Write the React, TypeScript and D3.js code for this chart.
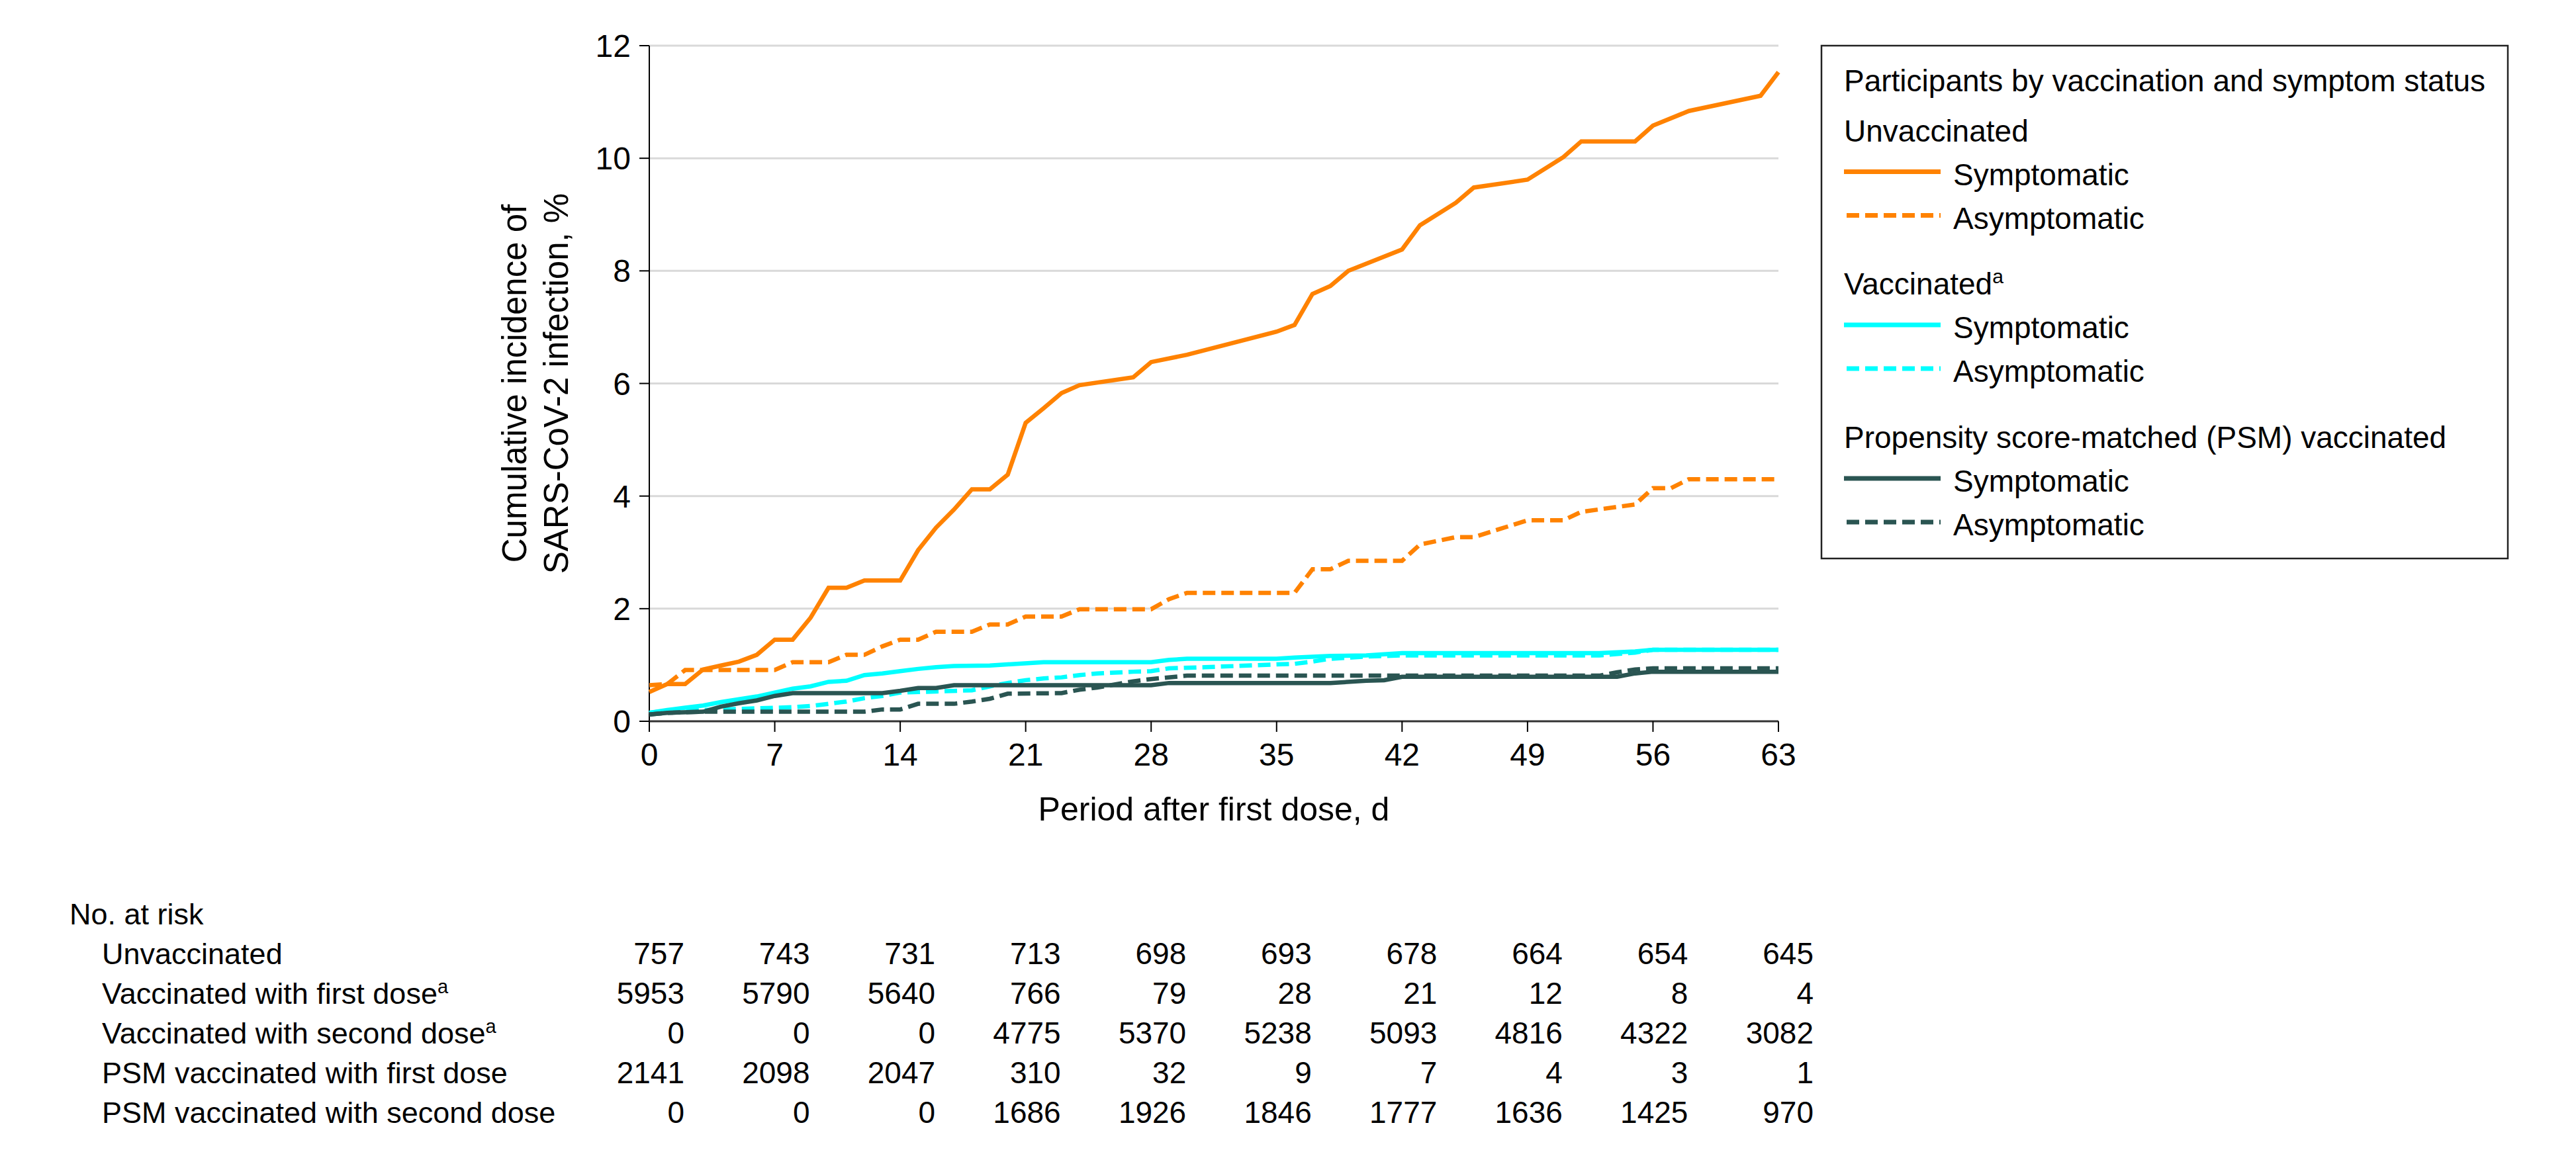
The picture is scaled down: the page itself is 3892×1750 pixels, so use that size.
import React from 'react';
import * as d3 from 'd3';

type P = [number, number];

const xTicks = [0, 7, 14, 21, 28, 35, 42, 49, 56, 63];
const yTicks = [0, 2, 4, 6, 8, 10, 12];

const unvaxSymptomatic: P[] = [
  [0, 0.52], [1, 0.66], [2, 0.66], [3, 0.92], [4, 0.99], [5, 1.06], [6, 1.18], [7, 1.45], [8, 1.45],
  [9, 1.84], [10, 2.37], [11, 2.37], [12, 2.5], [14, 2.5], [15, 3.04], [16, 3.44], [17, 3.76],
  [18, 4.12], [19, 4.12], [20, 4.38], [21, 5.3], [22, 5.56], [23, 5.83], [24, 5.97], [27, 6.11],
  [28, 6.38], [30, 6.51], [35, 6.92], [36, 7.04], [37, 7.59], [38, 7.73], [39, 8.0], [42, 8.38],
  [43, 8.81], [45, 9.21], [46, 9.48], [49, 9.62], [51, 10.02], [52, 10.3], [55, 10.3], [56, 10.58],
  [58, 10.84], [62, 11.11], [63, 11.53],
];
const unvaxAsymptomatic: P[] = [
  [0, 0.64], [1, 0.66], [2, 0.91], [7, 0.91], [8, 1.05], [10, 1.05], [11, 1.18], [12, 1.18],
  [13, 1.33], [14, 1.45], [15, 1.45], [16, 1.59], [18, 1.59], [19, 1.72], [20, 1.72], [21, 1.86],
  [23, 1.86], [24, 1.99], [28, 1.99], [29, 2.17], [30, 2.28], [36, 2.28], [37, 2.7], [38, 2.7],
  [39, 2.85], [42, 2.85], [43, 3.14], [45, 3.27], [46, 3.27], [49, 3.57], [51, 3.57], [52, 3.72],
  [55, 3.85], [56, 4.14], [57, 4.14], [58, 4.3], [63, 4.3],
];
const vaxSymptomatic: P[] = [
  [0, 0.15], [1, 0.2], [2, 0.24], [3, 0.28], [4, 0.34], [5, 0.39], [6, 0.44], [7, 0.51], [8, 0.58],
  [9, 0.62], [10, 0.7], [11, 0.72], [12, 0.82], [13, 0.85], [14, 0.89], [15, 0.93], [16, 0.96],
  [17, 0.98], [19, 0.99], [20, 1.01], [22, 1.05], [28, 1.05], [29, 1.09], [30, 1.11], [35, 1.11],
  [36, 1.13], [38, 1.16], [40, 1.17], [42, 1.21], [53, 1.21], [55, 1.24], [56, 1.27], [63, 1.27],
];
const vaxAsymptomatic: P[] = [
  [0, 0.15], [1, 0.19], [3, 0.2], [6, 0.23], [8, 0.25], [9, 0.27], [10, 0.31], [11, 0.35],
  [12, 0.41], [13, 0.45], [14, 0.51], [15, 0.52], [16, 0.53], [18, 0.55], [19, 0.62], [20, 0.68],
  [21, 0.73], [22, 0.76], [23, 0.78], [24, 0.82], [25, 0.85], [27, 0.88], [28, 0.89], [29, 0.94],
  [31, 0.96], [35, 1.01], [36, 1.02], [37, 1.06], [38, 1.11], [40, 1.15], [42, 1.17], [53, 1.17],
  [55, 1.22], [56, 1.27], [63, 1.27],
];
const psmSymptomatic: P[] = [
  [0, 0.12], [1, 0.15], [3, 0.17], [4, 0.26], [5, 0.32], [6, 0.37], [7, 0.45], [8, 0.5], [13, 0.5],
  [14, 0.54], [15, 0.59], [16, 0.59], [17, 0.64], [28, 0.64], [29, 0.68], [38, 0.68], [40, 0.72],
  [41, 0.73], [42, 0.79], [54, 0.79], [55, 0.85], [56, 0.88], [63, 0.88],
];
const psmAsymptomatic: P[] = [
  [0, 0.12], [1, 0.15], [3, 0.17], [12, 0.17], [13, 0.21], [14, 0.21], [15, 0.31], [17, 0.31],
  [18, 0.35], [19, 0.4], [20, 0.49], [23, 0.5], [24, 0.56], [25, 0.6], [27, 0.71], [28, 0.75],
  [30, 0.81], [53, 0.81], [54, 0.87], [55, 0.92], [56, 0.94], [63, 0.94],
];

const legendTitle = 'Participants by vaccination and symptom status';
const legendGroups = ['Unvaccinated', 'Vaccinated', 'Propensity score-matched (PSM) vaccinated'];
const legendGroupSup = [false, true, false];
const legendItems = ['Symptomatic', 'Asymptomatic'];

const riskRowLabels = [
  'Unvaccinated',
  'Vaccinated with first dose',
  'Vaccinated with second dose',
  'PSM vaccinated with first dose',
  'PSM vaccinated with second dose',
];
const riskRowSup = [false, true, true, false, false];
const riskUnvaccinated = [757, 743, 731, 713, 698, 693, 678, 664, 654, 645];
const riskVaxFirst = [5953, 5790, 5640, 766, 79, 28, 21, 12, 8, 4];
const riskVaxSecond = [0, 0, 0, 4775, 5370, 5238, 5093, 4816, 4322, 3082];
const riskPsmFirst = [2141, 2098, 2047, 310, 32, 9, 7, 4, 3, 1];
const riskPsmSecond = [0, 0, 0, 1686, 1926, 1846, 1777, 1636, 1425, 970];

const ORANGE = '#ff8200';
const CYAN = '#00ffff';
const DARK = '#2a5552';
const FONT = "'Liberation Sans', Arial, sans-serif";

const W = 3892;
const H = 1750;
const L = 981;
const R = 2687;
const T = 69;
const B = 1090;

export default function App() {
  const x = d3.scaleLinear().domain([0, 63]).range([L, R]);
  const y = d3.scaleLinear().domain([0, 12]).range([B, T]);
  const line = d3.line<P>().x((d) => x(d[0])).y((d) => y(d[1]));

  const series = [
    { data: unvaxSymptomatic, color: ORANGE, dash: null },
    { data: unvaxAsymptomatic, color: ORANGE, dash: '19,9' },
    { data: vaxSymptomatic, color: CYAN, dash: null },
    { data: vaxAsymptomatic, color: CYAN, dash: '19,9' },
    { data: psmSymptomatic, color: DARK, dash: null },
    { data: psmAsymptomatic, color: DARK, dash: '19,9' },
  ];
  const groupColors = [ORANGE, CYAN, DARK];
  const riskRows = [riskUnvaccinated, riskVaxFirst, riskVaxSecond, riskPsmFirst, riskPsmSecond];

  // legend layout
  const lgX = 2752, lgY = 69, lgW = 1037, lgH = 775;
  const lgTextX = 2786;
  const lgItemX = 2951;
  const groupBase = [213.5, 445, 677];

  return (
    <svg width={W} height={H} style={{ position: 'absolute', left: 0, top: 0, background: '#fff' }} fontFamily={FONT}>
      <rect x={0} y={0} width={W} height={H} fill="#fff" />
      {/* gridlines */}
      {yTicks.filter((t) => t > 0).map((t) => (
        <line key={'g' + t} x1={L} x2={R} y1={y(t)} y2={y(t)} stroke="#d9d9d9" strokeWidth={3} />
      ))}
      {/* y axis */}
      <line x1={L} x2={L} y1={T} y2={B} stroke="#000" strokeWidth={2} />
      {yTicks.map((t) => (
        <g key={'y' + t}>
          <line x1={L - 15} x2={L} y1={y(t)} y2={y(t)} stroke="#000" strokeWidth={2} />
          <text x={953} y={y(t) + 17} textAnchor="end" fontSize={48} fill="#000">{t}</text>
        </g>
      ))}
      {/* x axis */}
      <line x1={L} x2={R} y1={B} y2={B} stroke="#333" strokeWidth={3} />
      {xTicks.map((t) => (
        <g key={'x' + t}>
          <line x1={x(t)} x2={x(t)} y1={B} y2={B + 16} stroke="#000" strokeWidth={2} />
          <text x={x(t)} y={1157} textAnchor="middle" fontSize={48} fill="#000">{t}</text>
        </g>
      ))}
      <text x={(L + R) / 2} y={1240} textAnchor="middle" fontSize={50} fill="#000">Period after first dose, d</text>
      <text transform={`translate(795,${(T + B) / 2}) rotate(-90)`} textAnchor="middle" fontSize={51} fill="#000">Cumulative incidence of</text>
      <text transform={`translate(858,${(T + B) / 2}) rotate(-90)`} textAnchor="middle" fontSize={51} fill="#000">SARS-CoV-2 infection, %</text>

      {/* series */}
      {series.map((s, i) => (
        <path key={'s' + i} d={line(s.data) || ''} fill="none" stroke={s.color} strokeWidth={6.5}
          strokeDasharray={s.dash || undefined} />
      ))}

      {/* legend */}
      <rect x={lgX} y={lgY} width={lgW} height={lgH} fill="none" stroke="#222" strokeWidth={2.5} />
      <text x={lgTextX} y={138} fontSize={46} fill="#000">{legendTitle}</text>
      {legendGroups.map((g, gi) => (
        <g key={'lg' + gi}>
          <text x={lgTextX} y={groupBase[gi]} fontSize={46} fill="#000">
            {g}
            {legendGroupSup[gi] ? <tspan fontSize={30} dy={-17}>a</tspan> : null}
          </text>
          {legendItems.map((it, ii) => {
            const base = groupBase[gi] + 66 * (ii + 1);
            return (
              <g key={'li' + ii}>
                <line x1={ii === 0 ? lgTextX : lgTextX + 4} x2={2932} y1={base - 20} y2={base - 20}
                  stroke={groupColors[gi]} strokeWidth={7} strokeDasharray={ii === 1 ? '19,9' : undefined} />
                <text x={lgItemX} y={base} fontSize={46} fill="#000">{it}</text>
              </g>
            );
          })}
        </g>
      ))}

      {/* number at risk table */}
      <text x={105} y={1397} fontSize={45} fill="#000">No. at risk</text>
      {riskRowLabels.map((lab, ri) => (
        <g key={'r' + ri}>
          <text x={154} y={1457 + 60 * ri} fontSize={45} fill="#000">
            {lab}
            {riskRowSup[ri] ? <tspan fontSize={29} dy={-16}>a</tspan> : null}
          </text>
          {riskRows[ri].map((v, ci) => (
            <text key={'c' + ci} x={x(xTicks[ci]) + 53} y={1457 + 60 * ri} textAnchor="end" fontSize={46} fill="#000">{v}</text>
          ))}
        </g>
      ))}
    </svg>
  );
}
